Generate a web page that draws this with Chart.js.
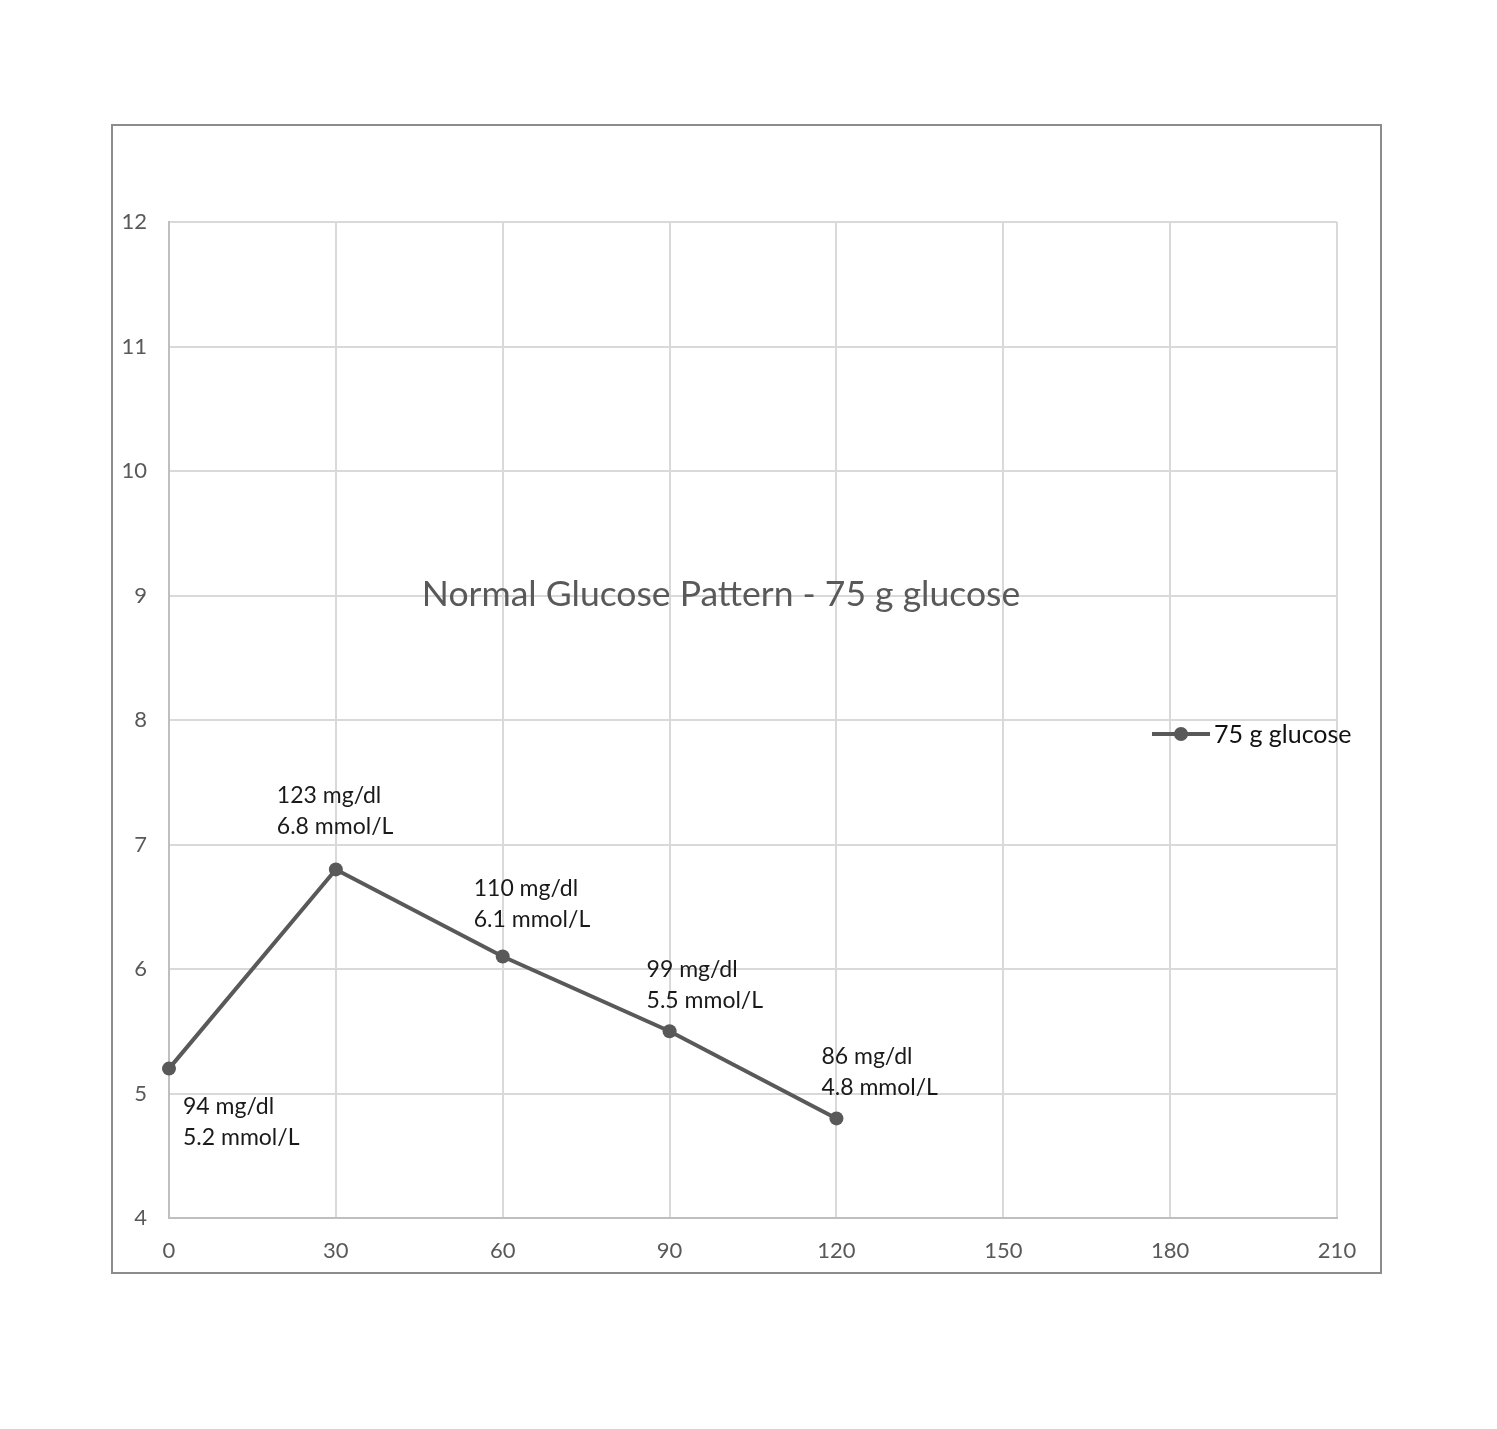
<!DOCTYPE html>
<html>
<head>
<meta charset="utf-8">
<title>Normal Glucose Pattern - 75 g glucose</title>
<script src="https://cdn.jsdelivr.net/npm/chart.js@4/dist/chart.umd.min.js"></script>
<style>
  html, body { margin: 0; padding: 0; background: #ffffff; }
  #frame {
    position: absolute;
    left: 111px; top: 124px;
    width: 1267px; height: 1146px;
    border: 2px solid #8c8c8c;
    background: #ffffff;
  }
  #frame canvas { display: block; }
</style>
</head>
<body>
<div id="frame"><canvas id="chart" width="1267" height="1146"></canvas></div>
<script>
// Minutes after the 75 g glucose drink
const minutes = [0, 30, 60, 90, 120];
// Blood glucose in mmol/L
const glucoseMmol = [5.2, 6.8, 6.1, 5.5, 4.8];
// Same readings in mg/dl, shown in the labels
const glucoseMgdl = [94, 123, 110, 99, 86];

const seriesName = '75 g glucose';
const chartTitle = 'Normal Glucose Pattern - 75 g glucose';

const xTicks = [0, 30, 60, 90, 120, 150, 180, 210];
const yTicks = [4, 5, 6, 7, 8, 9, 10, 11, 12];

// Label placement relative to each point: [dx, dy of first line centre]
const labelPlacement = [
  [14, 38],
  [-59, -74],
  [-29, -68],
  [-23, -62],
  [-15, -62]
];

const FONT = 'Lato, "Open Sans", "DejaVu Sans", sans-serif';
const LINE_COLOR = '#595959';

const points = minutes.map((m, i) => ({ x: m, y: glucoseMmol[i] }));

const labelsPlugin = {
  id: 'pointLabels',
  afterDatasetsDraw(chart) {
    const ctx = chart.ctx;
    const meta = chart.getDatasetMeta(0);
    ctx.save();
    ctx.font = '23px ' + FONT;
    ctx.fillStyle = '#1a1a1a';
    ctx.textBaseline = 'middle';
    ctx.textAlign = 'left';
    meta.data.forEach((pt, i) => {
      const [dx, dy] = labelPlacement[i];
      ctx.fillText(glucoseMgdl[i] + ' mg/dl', pt.x + dx, pt.y + dy);
      ctx.fillText(glucoseMmol[i].toFixed(1) + ' mmol/L', pt.x + dx, pt.y + dy + 31);
    });
    ctx.restore();
  }
};

const overlayPlugin = {
  id: 'titleAndLegend',
  afterDraw(chart) {
    const ctx = chart.ctx;
    const area = chart.chartArea;
    ctx.save();
    // Title, placed inside the plot
    ctx.font = '35.5px ' + FONT;
    ctx.fillStyle = '#595959';
    ctx.textAlign = 'center';
    ctx.textBaseline = 'middle';
    ctx.fillText(chartTitle, area.left + 552, area.top + 373);

    // Legend entry on the right
    const lx = area.left + 983, ly = area.top + 512;
    ctx.strokeStyle = LINE_COLOR;
    ctx.lineWidth = 4;
    ctx.beginPath();
    ctx.moveTo(lx, ly);
    ctx.lineTo(lx + 58, ly);
    ctx.stroke();
    ctx.fillStyle = LINE_COLOR;
    ctx.beginPath();
    ctx.arc(lx + 29, ly, 7, 0, Math.PI * 2);
    ctx.fill();
    ctx.font = '25px ' + FONT;
    ctx.fillStyle = '#111111';
    ctx.textAlign = 'left';
    ctx.fillText(seriesName, lx + 62, ly + 1);
    ctx.restore();
  }
};

new Chart(document.getElementById('chart'), {
  type: 'line',
  data: {
    datasets: [{
      label: seriesName,
      data: points,
      borderColor: LINE_COLOR,
      backgroundColor: LINE_COLOR,
      borderWidth: 4,
      pointRadius: 7,
      pointHoverRadius: 7,
      pointBackgroundColor: LINE_COLOR,
      pointBorderWidth: 0,
      tension: 0,
      clip: false
    }]
  },
  options: {
    responsive: false,
    animation: false,
    layout: { padding: { left: 0, top: 96, right: 43, bottom: 0 } },
    plugins: {
      legend: { display: false },
      title: { display: false },
      tooltip: { enabled: false }
    },
    scales: {
      x: {
        type: 'linear',
        min: 0, max: 210,
        afterFit(scale) { scale.height = 54; },
        afterBuildTicks(scale) { scale.ticks = xTicks.map(v => ({ value: v })); },
        grid: { color: '#d9d9d9', lineWidth: 2, drawTicks: false },
        border: { color: '#bfbfbf', width: 2 },
        ticks: {
          padding: 20,
          color: '#595959',
          font: { family: FONT, size: 22 },
          maxRotation: 0
        }
      },
      y: {
        type: 'linear',
        min: 4, max: 12,
        afterFit(scale) { scale.width = 56; },
        afterBuildTicks(scale) { scale.ticks = yTicks.map(v => ({ value: v })); },
        grid: { color: '#d9d9d9', lineWidth: 2, drawTicks: false },
        border: { color: '#bfbfbf', width: 2 },
        ticks: {
          padding: 22,
          color: '#595959',
          font: { family: FONT, size: 22 }
        }
      }
    }
  },
  plugins: [labelsPlugin, overlayPlugin]
});
</script>
</body>
</html>
